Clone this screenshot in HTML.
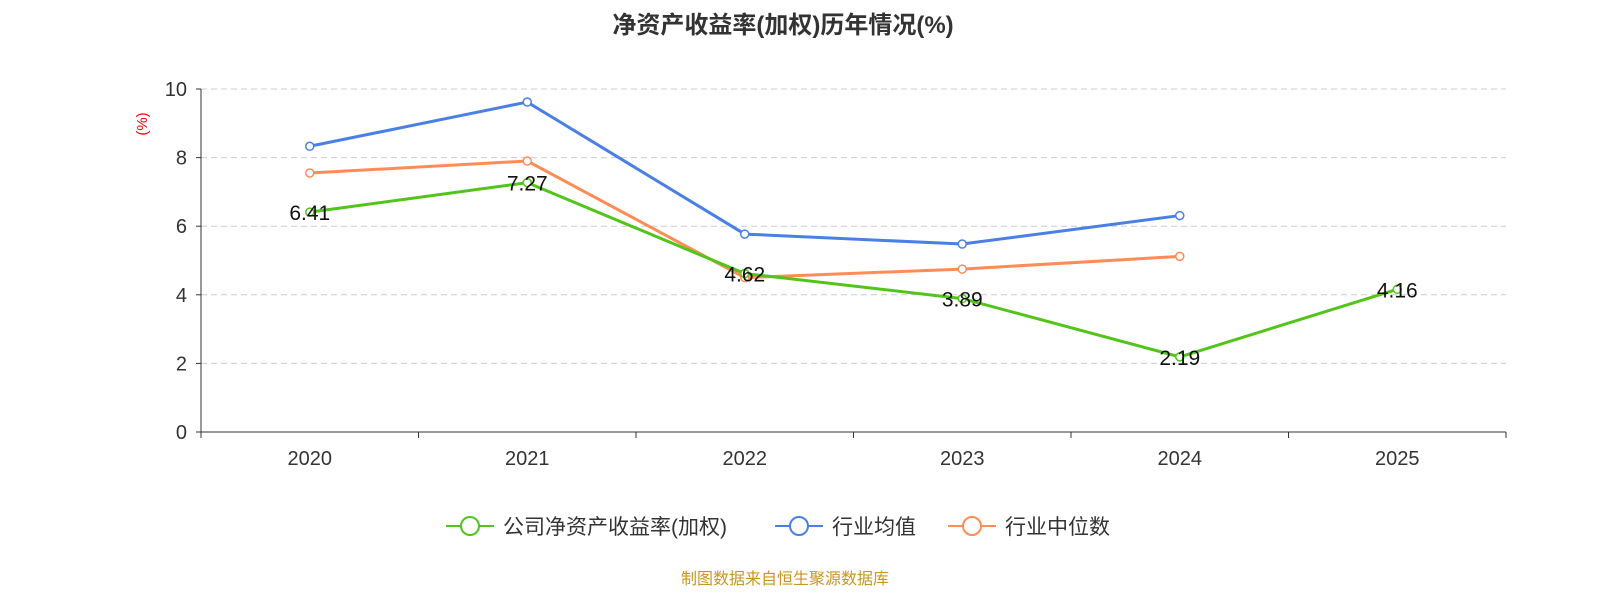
<!DOCTYPE html>
<html><head><meta charset="utf-8">
<style>
html,body{margin:0;padding:0;background:#fff;}
svg{display:block;font-family:"Liberation Sans","Noto Sans CJK SC",sans-serif;}
</style></head>
<body>
<svg id="chart" width="1600" height="600" viewBox="0 0 1600 600">
<text x="783" y="33" text-anchor="middle" font-size="24" font-weight="bold" fill="#333">净资产收益率(加权)历年情况(%)</text>
<text x="147" y="124" font-size="15" fill="#e00" transform="rotate(-90 147 124)" text-anchor="middle">(%)</text>
<g id="grid"></g><g id="axes"></g><g id="series"></g>
<g>
 <g>
  <line x1="446" y1="526" x2="494" y2="526" stroke="#52c41a" stroke-width="2"/>
  <circle cx="470" cy="526" r="9" fill="#fff" stroke="#52c41a" stroke-width="2"/>
  <text x="503" y="534" font-size="21" fill="#333">公司净资产收益率(加权)</text></g>
 <g>
  <line x1="775" y1="526" x2="823" y2="526" stroke="#4a7fe5" stroke-width="2"/>
  <circle cx="799" cy="526" r="9" fill="#fff" stroke="#4a7fe5" stroke-width="2"/>
  <text x="832" y="534" font-size="21" fill="#333">行业均值</text></g>
 <g>
  <line x1="948" y1="526" x2="996" y2="526" stroke="#ff8c55" stroke-width="2"/>
  <circle cx="972" cy="526" r="9" fill="#fff" stroke="#ff8c55" stroke-width="2"/>
  <text x="1005" y="534" font-size="21" fill="#333">行业中位数</text></g>
</g>
<text x="785" y="584" text-anchor="middle" font-size="16" fill="#c8961e">制图数据来自恒生聚源数据库</text>
</svg>
<script>
const categories=["2020","2021","2022","2023","2024","2025"];
const companyValues=[6.41,7.27,4.62,3.89,2.19,4.16];
const industryAvg=[8.33,9.62,5.77,5.48,6.31,null];
const industryMedian=[7.55,7.9,4.5,4.75,5.12,null];
const yTicks=[0,2,4,6,8,10];
const NS="http://www.w3.org/2000/svg";
const L=201,R=1506,T=89,B=432;
const bw=(R-L)/categories.length;
const xs=i=>L+bw*(i+0.5);
const ys=v=>B-(v/10)*(B-T);
function mk(tag,attrs,parent){const e=document.createElementNS(NS,tag);for(const k in attrs)e.setAttribute(k,attrs[k]);parent.appendChild(e);return e;}
const grid=document.getElementById('grid'),axes=document.getElementById('axes'),ser=document.getElementById('series');
yTicks.forEach(t=>{
 if(t>0){const g=mk('line',{x1:L,x2:R,y1:ys(t),y2:ys(t),stroke:'#ccc','stroke-dasharray':'6,4'},grid);
 
 }
 const tl=mk('text',{x:L-14,y:ys(t)+7,'text-anchor':'end','font-size':20,fill:'#333'},axes);tl.textContent=t;
 
 
 mk('line',{x1:L-5,x2:L,y1:ys(t),y2:ys(t),stroke:'#333'},axes);
});
mk('line',{x1:L,x2:L,y1:T,y2:B,stroke:'#333'},axes);
mk('line',{x1:L,x2:R,y1:B,y2:B,stroke:'#333'},axes);
for(let i=0;i<=categories.length;i++)mk('line',{x1:L+bw*i,x2:L+bw*i,y1:B,y2:B+6,stroke:'#333'},axes);
categories.forEach((c,i)=>{const t=mk('text',{x:xs(i),y:465,'text-anchor':'middle','font-size':20,fill:'#333'},axes);t.textContent=c;
 
 });
function drawSeries(vals,color,name,labels){
 const pts=vals.map((v,i)=>v==null?null:[xs(i),ys(v)]).filter(p=>p);
 const p=mk('polyline',{points:pts.map(q=>q.join(',')).join(' '),fill:'none',stroke:color,'stroke-width':3},ser);
 
 
 vals.forEach((v,i)=>{if(v==null)return;
  const c=mk('circle',{cx:xs(i),cy:ys(v),r:4,fill:'#fff',stroke:color,'stroke-width':1.5},ser);
  
  
  if(labels){const t=mk('text',{x:xs(i),y:ys(v)+8,'text-anchor':'middle','font-size':21,fill:'#111'},ser);t.textContent=v.toFixed(2);
   
   }
 });
}
drawSeries(industryAvg,'#4a7fe5','industry-avg',false);
drawSeries(industryMedian,'#ff8c55','industry-median',false);
drawSeries(companyValues,'#52c41a','company-roe',true);
</script>
</body></html>
